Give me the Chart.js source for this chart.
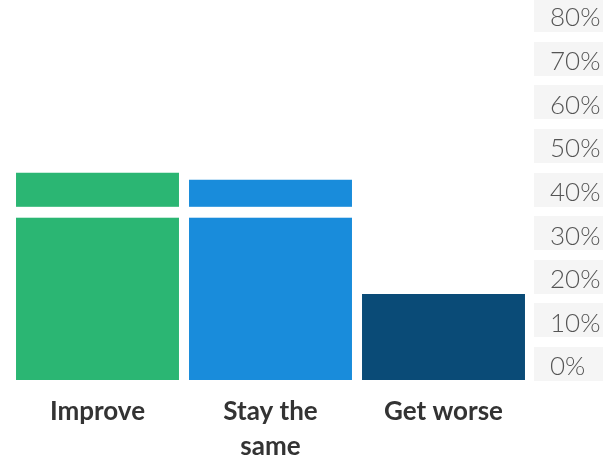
<!DOCTYPE html>
<html>
<head>
<meta charset="utf-8">
<script src="https://cdn.jsdelivr.net/npm/chart.js@4"></script>
<style>
html,body{margin:0;padding:0;background:#fff;}
#wrap{width:603px;height:459px;position:relative;}
</style>
</head>
<body>
<div id="wrap"><canvas id="c"></canvas></div>
<script>
const categories = ["Improve", ["Stay the", "same"], "Get worse"];
const values = [47.5, 45.9, 19.7];
const barColors = ["#2bb673", "#198cdb", "#0a4b77"];
const tickValues = [0, 10, 20, 30, 40, 50, 60, 70, 80];
const gapBand = [37.2, 39.7];

const boxPlugin = {
  id: 'boxes',
  beforeDraw(chart) {
    const y = chart.scales.y;
    const ctx = chart.ctx;
    ctx.save();
    ctx.fillStyle = '#f5f5f5';
    const left = chart.chartArea.right + 4;
    y.ticks.forEach(t => {
      const py = Math.round(y.getPixelForValue(t.value));
      ctx.fillRect(left, py - 33, chart.width - left, 34);
    });
    ctx.restore();
  },
  afterDatasetsDraw(chart) {
    const y = chart.scales.y;
    const ctx = chart.ctx;
    ctx.save();
    ctx.fillStyle = '#ffffff';
    const top = y.getPixelForValue(gapBand[1]);
    const bot = y.getPixelForValue(gapBand[0]);
    ctx.fillRect(chart.chartArea.left, top, chart.chartArea.right - chart.chartArea.left, bot - top);
    ctx.restore();
  }
};

new Chart(document.getElementById('c'), {
  type: 'bar',
  data: {
    labels: categories,
    datasets: [{
      data: values,
      backgroundColor: barColors,
      borderWidth: 0,
      barPercentage: 0.942,
      categoryPercentage: 1
    }]
  },
  options: {
    responsive: true,
    maintainAspectRatio: false,
    animation: false,
    layout: { padding: { left: 11, top: 31, right: 0, bottom: 0 } },
    plugins: { legend: { display: false }, tooltip: { enabled: false } },
    scales: {
      x: {
        grid: { display: false, drawTicks: false },
        border: { display: false },
        afterFit(scale) { scale.height = 79; scale.paddingLeft = 0; scale.paddingRight = 0; },
        ticks: {
          color: '#333333',
          font: { family: 'Lato', size: 26, weight: 'bold', lineHeight: 1.35 },
          padding: 14,
          maxRotation: 0,
          autoSkip: false
        }
      },
      y: {
        position: 'right',
        min: 0,
        max: 80,
        grid: { display: false, drawTicks: false },
        border: { display: false },
        afterFit(scale) { scale.width = 73; scale.paddingTop = 0; scale.paddingBottom = 0; },
        afterBuildTicks(scale) { scale.ticks = tickValues.map(v => ({ value: v })); },
        ticks: {
          color: '#555555',
          font: { family: 'Lato', size: 26, weight: 300 },
          padding: 20,
          labelOffset: -13,
          callback: v => v + '%'
        }
      }
    }
  },
  plugins: [boxPlugin]
});
</script>
</body>
</html>
